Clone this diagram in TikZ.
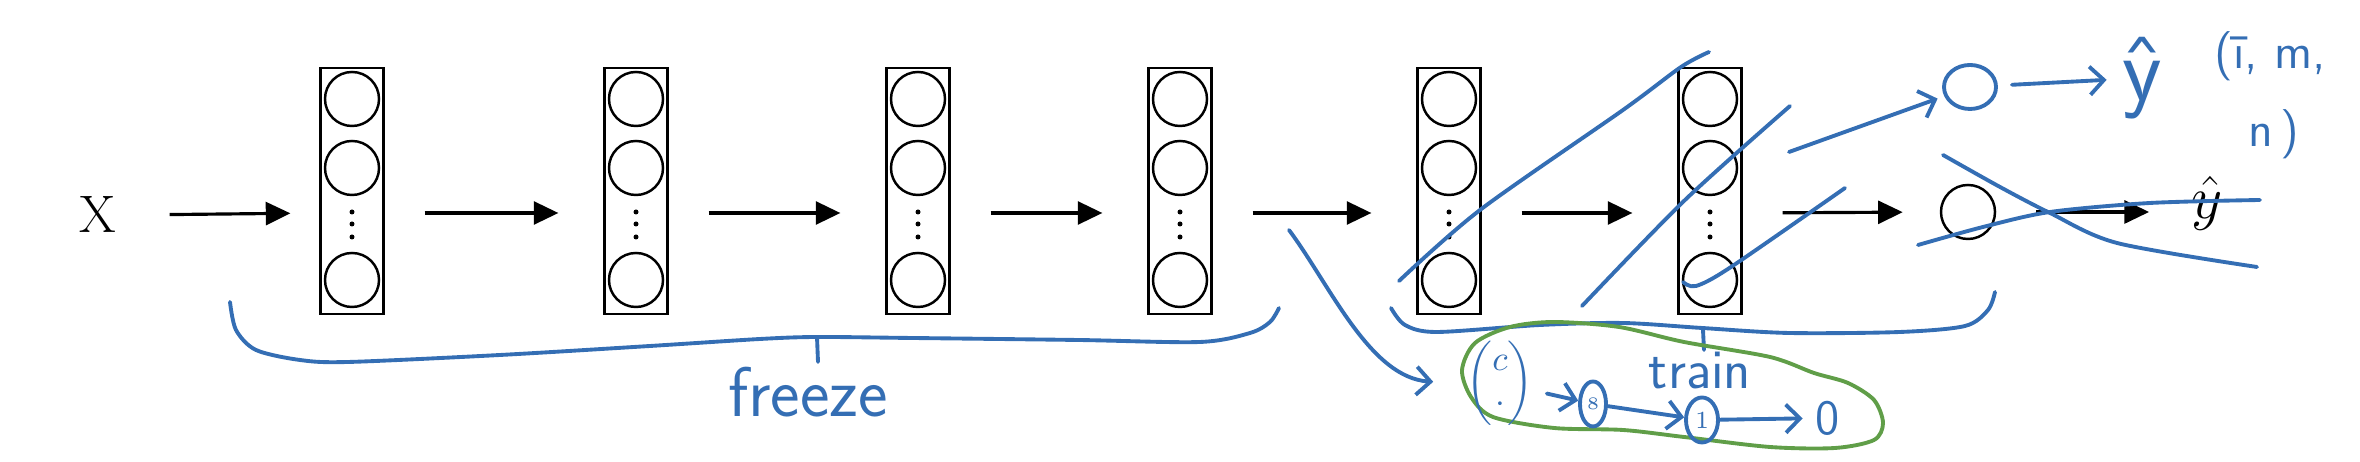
\documentclass[tikz,border=0pt]{standalone}
\usepackage{amsmath}
\usepackage{amssymb}
\usetikzlibrary{arrows.meta,shapes.geometric}

\definecolor{handblue}{RGB}{52,110,180}
\definecolor{handgreen}{RGB}{96,158,72}

\begin{document}
\begin{tikzpicture}[x=0.01cm,y=-0.01cm,>={Triangle[length=7pt,width=6.5pt]},
  line width=0.9pt]
  \tikzstyle{layerbox}=[draw,line width=0.6pt,minimum width=0.63cm,minimum height=2.46cm,inner sep=0pt]
  \tikzstyle{neuron}=[draw,circle,line width=0.7pt,minimum size=0.54cm,inner sep=0pt]
  \tikzstyle{flow}=[->,shorten <=0.4cm,shorten >=0.45cm]
  \tikzstyle{hand}=[draw=handblue,text=handblue,line width=1.1pt,line cap=round,line join=round]
  \tikzstyle{barb}=[hand,-{Straight Barb[length=4pt,width=8pt]}]
  \tikzstyle{note}=[text=handblue,inner sep=1pt,font=\sffamily\fontsize{14}{16}\selectfont]

  \useasboundingbox (0,0) rectangle (2360,462);

  % network
  \node (X) at (98,215) {\fontsize{15}{17}\selectfont X};
  \foreach \n/\x in {L1/352,L2/636,L3/918,L4/1180,L5/1449,L6/1710} {
    \node[layerbox] (\n) at (\x,191) {};
    \foreach \dy in {-92,-23,89}
      \node[neuron] at (\x,{191+\dy}) {};
    \foreach \dy in {21,33,46}
      \fill (\x,{191+\dy}) circle (2.5);
  }
  \node[neuron] (O) at (1968,212) {};
  \node (Y) at (2207,203) {\fontsize{17}{20}\selectfont $\hat{y}$};

  \path[flow] (X.east) edge [shorten >=0.29cm] ([yshift=-0.22cm]L1.west)
        ([yshift=-0.22cm]L1.east) edge ([yshift=-0.22cm]L2.west)
        ([yshift=-0.22cm]L2.east) edge ([yshift=-0.22cm]L3.west)
        ([yshift=-0.22cm]L3.east) edge ([yshift=-0.22cm]L4.west)
        ([yshift=-0.22cm]L4.east) edge ([yshift=-0.22cm]L5.west)
        ([yshift=-0.22cm]L5.east) edge ([yshift=-0.22cm]L6.west)
        ([yshift=-0.22cm]L6.east) edge [shorten >=0.37cm] (O.west)
        (O.east) edge [shorten >=0.29cm] (O.east -| Y.west)
        ;

  % freeze
  \draw[hand] plot[smooth] coordinates {(230,302) (236,330) (256,350) (300,360) (348,362)
    (500,355) (650,346) (760,339) (817,337) (912,338) (1078,340) (1200,342) (1250,333)
    (1270,322) (1279,308)};
  \draw[hand] (817,337) -- (818,362);
  \node[text=handblue] (freeze) at (808,392) {\sffamily\fontsize{20}{22}\selectfont freeze};

  % train
  \draw[hand] plot[smooth] coordinates {(1391,308) (1405,325) (1437,332) (1540,325)
    (1623,323) (1702,328) (1789,333) (1900,332) (1965,326) (1988,310) (1995,292)};
  \draw[hand] (1703,330) -- (1704,350);

  % crossed out
  \draw[hand] plot[smooth] coordinates {(1399,281) (1480,210) (1623,110) (1681,67) (1709,52)};
  \draw[hand] plot[smooth] coordinates {(1582,306) (1685,200) (1790,106)};
  \draw[hand] plot[smooth] coordinates {(1683,282) (1696,286) (1731,267) (1845,188)};
  \draw[hand] plot[smooth] coordinates {(1943,155) (2000,187) (2050,213) (2117,243) (2257,267)};
  \draw[hand] plot[smooth] coordinates {(1918,245) (1983,227) (2050,212) (2150,203) (2260,200)};

  % new head
  \coordinate (d0) at (1789,152);
  \node[hand,ellipse,minimum width=0.52cm,minimum height=0.44cm,inner sep=0pt] (topO) at (1970,87) {};
  \node[text=handblue,inner sep=1pt] (topY) at (2142,78) {\sffamily\fontsize{26}{28}\selectfont ŷ};
  \node[note] (info) at (2270,56) {(ī, m,};
  \node[note] (info2) at (2274,134) {n\kern2pt)};
  \path (d0) edge [barb,shorten >=2pt] (topO)
        (topO) edge [barb,shorten <=4pt,shorten >=3pt] (topY);

  % new layers
  \draw[handgreen,line width=1.1pt] plot[smooth cycle] coordinates {(1462,370) (1475,343)
    (1510,327) (1554,322) (1619,327) (1684,342) (1770,357) (1814,373) (1848,383)
    (1874,400) (1883,423) (1874,440) (1835,448) (1770,447) (1684,437) (1623,430)
    (1554,428) (1493,417) (1471,397)};
  \node[text=handblue] (vec) at (1500,383) {$\begin{pmatrix}c\\ \cdot\end{pmatrix}$};
  \node[hand,ellipse,minimum width=0.26cm,minimum height=0.45cm,inner sep=0pt] (e2) at (1593,404) {\tiny 8};
  \node[hand,ellipse,minimum width=0.32cm,minimum height=0.45cm,inner sep=0pt] (e3) at (1702,420) {\scriptsize 1};
  \node[text=handblue] (zero) at (1828,418) {\sffamily\fontsize{14}{16}\selectfont 0};
  \node[text=handblue] (train) at (1700,371) {\sffamily\fontsize{16}{18}\selectfont train};
  \coordinate (s0) at (1289,230);
  \draw[barb,shorten >=0.2cm] (s0) .. controls (1330,285) and (1370,378) .. (vec.west);
  \path (vec) edge [barb] (e2)
        (e2) edge [barb] (e3)
        (e3) edge [barb] (zero);
\end{tikzpicture}
\end{document}
